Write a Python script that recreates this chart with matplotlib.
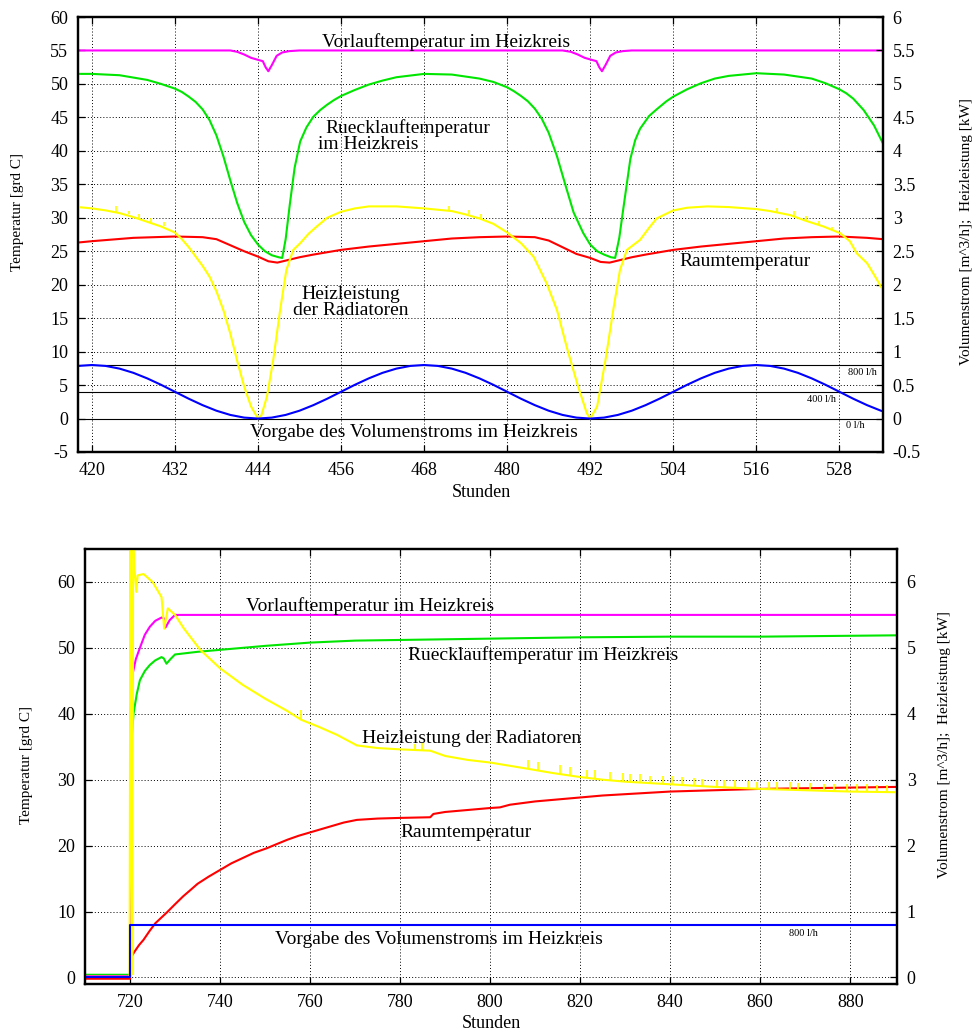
import numpy as np
import matplotlib
matplotlib.use("Agg")
import matplotlib.pyplot as plt

plt.rcParams['font.family'] = ['Liberation Serif', 'DejaVu Serif']
plt.rcParams['axes.unicode_minus'] = False

# ================= top panel: hours 418 - 534 =================
TOP_VL_H = [418, 440, 441, 442, 443, 444, 444.7, 445.1, 445.5, 446, 446.7, 447.5, 448.5, 450,
            488, 489.2, 490.2, 491.2, 492.2, 492.9, 493.3, 493.7, 494.2, 494.9, 495.7, 496.7, 498, 534.3]
TOP_VL = [55, 55, 54.8, 54.4, 53.9, 53.6, 53.4, 52.5, 51.9, 52.8, 54.2, 54.7, 54.9, 55,
          55, 54.8, 54.4, 53.9, 53.6, 53.4, 52.5, 51.9, 52.8, 54.2, 54.7, 54.9, 55, 55]

TOP_RL_H = [418, 420, 424, 428, 430, 432, 433, 434, 435, 436, 437, 438, 439, 440, 441, 442, 443, 444, 445,
            446, 447, 447.5, 448, 448.6, 449.3, 450.1, 451, 452, 453, 454, 455, 456, 458, 460, 462,
            464, 468, 472, 476, 478, 480, 481, 482, 483, 484, 485, 486, 487.2, 488.5, 489.6, 491,
            492, 493, 494, 495, 495.6, 496.2, 496.8, 497.8, 498.5, 499.2, 500.5, 501.6, 503, 504,
            506, 508, 510, 512, 516, 520, 524, 526, 528, 529, 530, 531.5, 533, 534.3]
TOP_RL = [51.5, 51.5, 51.3, 50.6, 50.0, 49.3, 48.8, 48.1, 47.3, 46.2, 44.6, 42.3, 39.2, 35.6, 32.2, 29.4, 27.4,
          26.0, 25.0, 24.4, 24.1, 24.0, 26.8, 32.0, 37.5, 41.4, 43.5, 45.1, 46.1, 46.9, 47.6, 48.2,
          49.1, 49.9, 50.5, 51.0, 51.5, 51.4, 50.8, 50.3, 49.5, 48.9, 48.2, 47.4, 46.3, 44.8, 42.7,
          39.2, 34.6, 30.8, 27.7, 26.0, 25.0, 24.5, 24.1, 24.0, 27.0, 31.5, 38.8, 41.6, 43.3, 45.2,
          46.2, 47.4, 48.1, 49.2, 50.1, 50.8, 51.2, 51.6, 51.4, 50.8, 50.1, 49.2, 48.6, 47.8, 46.1,
          43.8, 41.1]

TOP_RAUM_H = [418, 420, 426, 432, 436, 438, 440, 442, 444, 445.5, 446.8, 448, 450, 452, 456, 460, 464,
              468, 472, 476, 480, 484, 486, 488, 490, 492, 493.5, 494.8, 496, 498, 500, 504, 508,
              512, 516, 520, 524, 528, 532, 534.3]
TOP_RAUM = [26.3, 26.5, 27.0, 27.2, 27.1, 26.8, 25.9, 25.0, 24.2, 23.5, 23.3, 23.6, 24.1, 24.5, 25.2, 25.7, 26.1,
            26.5, 26.9, 27.1, 27.2, 27.1, 26.6, 25.6, 24.6, 24.0, 23.4, 23.3, 23.6, 24.1, 24.5, 25.2, 25.7,
            26.1, 26.5, 26.9, 27.1, 27.2, 27.0, 26.8]

# Heizleistung der Radiatoren [kW]
TOP_HL_H = [418, 420, 422, 424, 426, 428, 430, 432, 433, 434, 435, 436, 437, 438, 439, 440, 441, 442, 443,
            444, 444.5, 445.3, 446.2, 447.2, 448.1, 449.1, 450.1, 451.3, 452.5, 454, 456, 458, 460,
            464, 468, 472, 474, 476, 478, 480, 482, 483.8, 485.7, 487.2, 488.6, 490.1, 491.5,
            492, 493, 494.2, 495.4, 496.3, 497.3, 499.2, 500.5, 501.6, 504, 506, 508.9, 512, 516,
            518, 520.9, 523, 525.7, 528.1, 529.5, 530.5, 532, 533, 534.3]
TOP_HL = [3.16, 3.14, 3.11, 3.07, 3.01, 2.94, 2.87, 2.78, 2.68, 2.56, 2.42, 2.28, 2.12, 1.90, 1.62, 1.27, 0.86, 0.48, 0.18,
          0.0, 0.05, 0.33, 0.87, 1.62, 2.22, 2.52, 2.62, 2.76, 2.87, 3.00, 3.09, 3.14, 3.17,
          3.17, 3.14, 3.10, 3.05, 2.99, 2.91, 2.78, 2.62, 2.42, 2.02, 1.62, 1.07, 0.53, 0.08,
          0.0, 0.18, 0.87, 1.67, 2.22, 2.52, 2.67, 2.85, 2.99, 3.11, 3.15, 3.17, 3.16, 3.13,
          3.10, 3.04, 2.96, 2.87, 2.77, 2.65, 2.47, 2.32, 2.15, 1.92]
TOP_HL_SPIKE_H = [423.5, 425.4, 426.8, 428.6, 430.4, 471.6, 474.5, 476.2, 519.0, 521.4, 523.2, 525.0, 527.0]
TOP_HL_SPIKE_BASE = [3.08, 3.05, 3.00, 2.94, 2.87, 3.11, 3.05, 2.99, 3.08, 3.03, 2.96, 2.89, 2.80]
TOP_HL_SPIKE_TOP = [3.17, 3.10, 3.05, 2.99, 2.93, 3.18, 3.11, 3.05, 3.15, 3.10, 3.03, 2.95, 2.86]

# Vorgabe des Volumenstroms [m^3/h]
TOP_VS_H = [418, 420, 422, 424, 426, 428, 430, 432, 434, 436, 438, 440, 442, 444, 446, 448, 450, 452,
            454, 456, 458, 460, 462, 464, 466, 468, 470, 472, 474, 476, 478, 480, 482, 484, 486,
            488, 490, 492, 494, 496, 498, 500, 502, 504, 506, 508, 510, 512, 514, 516, 518, 520,
            522, 524, 526, 528, 530, 532, 534, 534.3]
TOP_VS = [0.786, 0.8, 0.786, 0.746, 0.683, 0.6, 0.504, 0.4, 0.296, 0.2, 0.117, 0.054, 0.014, 0.0, 0.014,
          0.054, 0.117, 0.2, 0.296, 0.4, 0.504, 0.6, 0.683, 0.746, 0.786, 0.8, 0.786, 0.746, 0.683,
          0.6, 0.504, 0.4, 0.296, 0.2, 0.117, 0.054, 0.014, 0.0, 0.014, 0.054, 0.117, 0.2, 0.296,
          0.4, 0.504, 0.6, 0.683, 0.746, 0.786, 0.8, 0.786, 0.746, 0.683, 0.6, 0.504, 0.4, 0.296,
          0.2, 0.117, 0.11]
TOP_REF_FLOWS = [0.8, 0.4, 0.0]
TOP_REF_LABELS = ["800 l/h", "400 l/h", "0 l/h"]
TOP_XTICKS = [420, 432, 444, 456, 468, 480, 492, 504, 516, 528]
TOP_YTICKS = list(range(-5, 61, 5))
TOP_Y2TICKS = [-0.5, 0, 0.5, 1, 1.5, 2, 2.5, 3, 3.5, 4, 4.5, 5, 5.5, 6]

# ================= bottom panel: hours 710 - 890 =================
BOT_VL_H = [710, 720, 720.1, 720.6, 721.3, 722.2, 723.3, 724.4, 725.6, 727, 727.5, 727.9, 728.8, 730, 890]
BOT_VL = [0.2, 0.2, 40, 46.1, 48.3, 50.0, 52.0, 53.2, 54.1, 54.6, 54.5, 53.1, 54.2, 55.0, 55.0]

BOT_RL_H = [710, 720, 720.2, 720.8, 721.5, 722.2, 723.3, 724.4, 725.6, 727, 727.5, 728.1, 729, 730, 735,
            740, 750, 760, 770, 780, 790, 800, 820, 840, 860, 890]
BOT_RL = [0.4, 0.4, 35, 40.1, 43.0, 45.1, 46.5, 47.4, 48.1, 48.6, 48.4, 47.6, 48.3, 49.0, 49.4,
          49.7, 50.3, 50.8, 51.1, 51.2, 51.3, 51.4, 51.6, 51.7, 51.7, 51.9]

BOT_RAUM_H = [710, 720, 720.1, 721, 722, 723, 724.3, 725.6, 727, 728.1, 730, 731.8, 733.5, 735, 737.5, 740,
              742.5, 745, 747.5, 750.4, 752.5, 755, 757.5, 760, 762.5, 765, 767.5, 770.4, 775, 780,
              786.7, 787.4, 790, 795, 800, 802.2, 804.4, 810, 815, 820, 825, 830, 835, 840, 850, 860,
              870, 880, 890]
BOT_RAUM = [-0.2, -0.2, 2.9, 3.9, 4.9, 5.7, 7.0, 8.2, 9.1, 9.8, 11.1, 12.3, 13.3, 14.2, 15.3, 16.3,
            17.3, 18.1, 18.9, 19.6, 20.2, 20.9, 21.5, 22.0, 22.5, 23.0, 23.5, 23.9, 24.1, 24.2,
            24.3, 24.8, 25.1, 25.4, 25.7, 25.8, 26.2, 26.7, 27.0, 27.3, 27.6, 27.8, 28.0, 28.2, 28.4, 28.6,
            28.7, 28.8, 28.9]

# Heizleistung der Radiatoren [kW]
BOT_HL_H = [710, 719.9, 720.1, 720.3, 720.5, 720.7, 721.0, 721.4, 721.7, 723, 725, 727, 727.6, 728.4, 730,
            732, 735.6, 740, 745, 750, 755, 758, 762, 766, 770.4, 775, 780, 786.7, 790, 795, 800,
            808, 814, 820, 825, 830, 835, 840, 850, 860, 870, 880, 890]
BOT_HL = [0.01, 0.01, 6.8, 3.0, 0.05, 6.6, 6.20, 5.85, 6.10, 6.12, 6.00, 5.77, 5.29, 5.60, 5.50,
          5.29, 4.97, 4.69, 4.44, 4.23, 4.04, 3.91, 3.80, 3.68, 3.52, 3.48, 3.46, 3.44, 3.36, 3.30, 3.26,
          3.17, 3.10, 3.04, 3.00, 2.97, 2.95, 2.93, 2.89, 2.86, 2.84, 2.82, 2.81]
BOT_HL_SPIKE_H = [758.0, 783.3, 784.8, 808.5, 810.7, 815.6, 817.8, 821.5, 823.3, 826.7, 829.6, 831.1, 833.3,
                  835.6, 838.5, 840.4, 842.6, 845.2, 847.0, 850.4, 851.9, 854.4, 857.4, 859.3, 861.9,
                  863.7, 866.7, 868.5, 871.1, 874.1, 876.3, 879.3, 881.5, 883.7, 885.9, 888.1]
BOT_HL_SPIKE_BASE = [3.90, 3.45, 3.44, 3.17, 3.15, 3.09, 3.07, 3.03, 3.02, 3.00, 2.98, 2.97, 2.96,
                     2.94, 2.93, 2.93, 2.92, 2.91, 2.90, 2.89, 2.88, 2.88, 2.87, 2.86, 2.86,
                     2.85, 2.85, 2.84, 2.84, 2.83, 2.83, 2.82, 2.82, 2.82, 2.81, 2.81]
BOT_HL_SPIKE_TOP = [4.05, 3.54, 3.56, 3.30, 3.27, 3.22, 3.19, 3.15, 3.14, 3.12, 3.10, 3.09, 3.08,
                    3.06, 3.05, 3.05, 3.04, 3.02, 3.01, 3.00, 2.99, 2.99, 2.98, 2.97, 2.97,
                    2.96, 2.96, 2.95, 2.95, 2.94, 2.94, 2.93, 2.93, 2.93, 2.92, 2.92]

BOT_VS_H = [710, 720, 720, 890]
BOT_VS = [0.0, 0.0, 0.8, 0.8]
BOT_XTICKS = [720, 740, 760, 780, 800, 820, 840, 860, 880]
BOT_YTICKS = [0, 10, 20, 30, 40, 50, 60]
BOT_Y2TICKS = [0, 1, 2, 3, 4, 5, 6]

C_VL = '#ff00ff'
C_RL = '#00e600'
C_RAUM = '#ff0000'
C_HL = '#ffff00'
C_VS = '#0000ff'
LW = 1.5
TICK_FS = 13
XLABEL_FS = 13
YLABEL_FS = 11
TEXT_FS = 14

W, H = 978, 1035
fig = plt.figure(figsize=(W / 100, H / 100), dpi=100)


def style_axes(ax, ax2):
    for a in (ax, ax2):
        for s in a.spines.values():
            s.set_linewidth(1.6)
    ax.tick_params(axis='both', direction='in', length=5, width=0.9, labelsize=TICK_FS,
                   top=True, right=False, pad=7)
    ax2.tick_params(axis='y', direction='in', length=5, width=0.9, labelsize=TICK_FS, pad=7)
    ax.grid(True, color='black', linestyle=(0, (1, 2.2)), linewidth=0.7)
    ax.set_axisbelow(True)


# ---------------- top ----------------
ax = fig.add_axes([78 / W, 1 - 452 / H, 805 / W, 435 / H])
ax2 = ax.twinx()
ax.set_xlim(418, 534.3)
ax.set_ylim(-5, 60)
ax2.set_ylim(-0.5, 6)
ax.set_xticks(TOP_XTICKS)
ax.set_yticks(TOP_YTICKS)
ax2.set_yticks(TOP_Y2TICKS)
ax2.set_yticklabels([f"{v:g}" for v in TOP_Y2TICKS])
style_axes(ax, ax2)

ax.plot(TOP_RAUM_H, TOP_RAUM, color=C_RAUM, lw=LW)
ax.plot(TOP_RL_H, TOP_RL, color=C_RL, lw=LW)
ax.plot(TOP_VL_H, TOP_VL, color=C_VL, lw=LW)
for f in TOP_REF_FLOWS:
    ax2.axhline(f, color='black', lw=0.8)
ax2.plot(TOP_HL_H, TOP_HL, color=C_HL, lw=LW)
ax2.vlines(TOP_HL_SPIKE_H, TOP_HL_SPIKE_BASE, TOP_HL_SPIKE_TOP, color=C_HL, lw=1.2)
ax2.plot(TOP_VS_H, TOP_VS, color=C_VS, lw=LW)

ax.text(471.2, 56.3, "Vorlauftemperatur im Heizkreis", fontsize=TEXT_FS, ha='center', va='center')
ax.text(453.7, 43.4, "Ruecklauftemperatur", fontsize=TEXT_FS, ha='left', va='center')
ax.text(452.7, 40.9, "im Heizkreis", fontsize=TEXT_FS, ha='left', va='center')
ax.text(457.4, 18.5, "Heizleistung", fontsize=TEXT_FS, ha='center', va='center')
ax.text(457.4, 16.1, "der Radiatoren", fontsize=TEXT_FS, ha='center', va='center')
ax.text(514.3, 23.4, "Raumtemperatur", fontsize=TEXT_FS, ha='center', va='center')
ax.text(466.5, -2.1, "Vorgabe des Volumenstroms im Heizkreis", fontsize=TEXT_FS, ha='center', va='center')
ax2.text(531.3, 0.685, TOP_REF_LABELS[0], fontsize=7.5, ha='center', va='center')
ax2.text(525.4, 0.29, TOP_REF_LABELS[1], fontsize=7.5, ha='center', va='center')
ax2.text(530.3, -0.11, TOP_REF_LABELS[2], fontsize=7.5, ha='center', va='center')

fig.text(481 / W, 1 - 492 / H, "Stunden", fontsize=XLABEL_FS, ha='center', va='center')
fig.text(18 / W, 1 - 212 / H, "Temperatur [grd C]", fontsize=YLABEL_FS, rotation=90, ha='center', va='center')
fig.text(967 / W, 1 - 232 / H, "Volumenstrom [m^3/h];  Heizleistung [kW]", fontsize=YLABEL_FS,
         rotation=90, ha='center', va='center')

# ---------------- bottom ----------------
bx = fig.add_axes([85 / W, 1 - 984 / H, 812 / W, 435 / H])
bx2 = bx.twinx()
bx.set_xlim(710, 890.4)
bx.set_ylim(-1, 65)
bx2.set_ylim(-0.1, 6.5)
bx.set_xticks(BOT_XTICKS)
bx.set_yticks(BOT_YTICKS)
bx2.set_yticks(BOT_Y2TICKS)
style_axes(bx, bx2)

bx.plot(BOT_RAUM_H, BOT_RAUM, color=C_RAUM, lw=LW)
bx.plot(BOT_RL_H, BOT_RL, color=C_RL, lw=LW)
bx.plot(BOT_VL_H, BOT_VL, color=C_VL, lw=LW)
bx2.plot(BOT_HL_H, BOT_HL, color=C_HL, lw=LW)
bx2.vlines(BOT_HL_SPIKE_H, BOT_HL_SPIKE_BASE, BOT_HL_SPIKE_TOP, color=C_HL, lw=1.3)
bx2.plot(BOT_VS_H, BOT_VS, color=C_VS, lw=LW)

bx.text(773.3, 56.4, "Vorlauftemperatur im Heizkreis", fontsize=TEXT_FS, ha='center', va='center')
bx.text(811.7, 48.9, "Ruecklauftemperatur im Heizkreis", fontsize=TEXT_FS, ha='center', va='center')
bx.text(795.8, 36.3, "Heizleistung der Radiatoren", fontsize=TEXT_FS, ha='center', va='center')
bx.text(794.7, 22.0, "Raumtemperatur", fontsize=TEXT_FS, ha='center', va='center')
bx.text(788.7, 5.8, "Vorgabe des Volumenstroms im Heizkreis", fontsize=TEXT_FS, ha='center', va='center')
bx2.text(869.6, 0.66, "800 l/h", fontsize=7.5, ha='center', va='center')

fig.text(491 / W, 1 - 1024 / H, "Stunden", fontsize=XLABEL_FS, ha='center', va='center')
fig.text(27 / W, 1 - 765 / H, "Temperatur [grd C]", fontsize=YLABEL_FS, rotation=90, ha='center', va='center')
fig.text(945 / W, 1 - 745 / H, "Volumenstrom [m^3/h];  Heizleistung [kW]", fontsize=YLABEL_FS,
         rotation=90, ha='center', va='center')

fig.savefig("out.png", dpi=100)
